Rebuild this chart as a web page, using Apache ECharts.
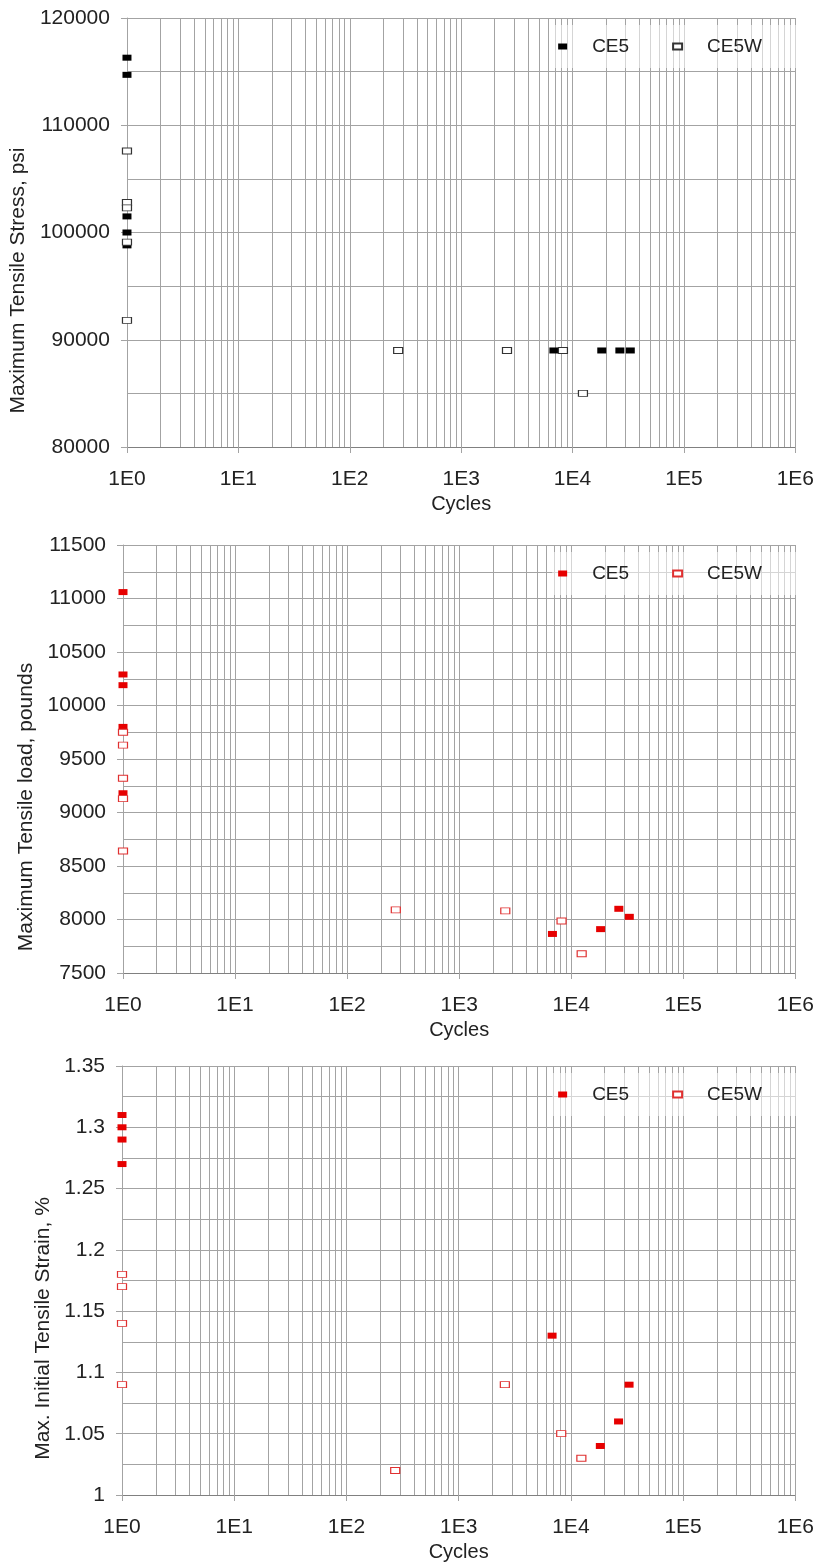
<!DOCTYPE html>
<html>
<head>
<meta charset="utf-8">
<script src="https://cdn.jsdelivr.net/npm/echarts@6/dist/echarts.min.js"></script>
<style>
html,body{margin:0;padding:0;background:#fff}
#main{width:817px;height:1568px}
</style>
</head>
<body>
<div id="main"></div>
<script>
// cycles to failure (same specimens in all three plots)
var ce5Cycles = [1, 1, 1, 1, 1, 6800, 18300, 26600, 33000];
var ce5wCycles = [1, 1, 1, 1, 1, 272, 2580, 8200, 12400];
var ce5StrainCycles = [1, 1, 1, 1, 6800, 18300, 26600, 33000];
var ce5wStrainCycles = [1, 1, 1, 1, 272, 2580, 8200, 12400];

// plot 1 : maximum tensile stress, psi
var ce5Stress = [116300, 114700, 101500, 100000, 98800, 89000, 89000, 89000, 89000];
var ce5wStress = [107600, 102800, 102300, 99100, 91800, 89000, 89000, 89000, 85000];

// plot 2 : maximum tensile load, pounds
var ce5Load = [11060, 10290, 10190, 9800, 9180, 7865, 7910, 8100, 8025];
var ce5wLoad = [9750, 9630, 9320, 9130, 8640, 8090, 8080, 7986, 7680];

// plot 3 : max. initial tensile strain, %
var ce5Strain = [1.31, 1.30, 1.29, 1.27, 1.13, 1.04, 1.06, 1.09];
var ce5wStrain = [1.18, 1.17, 1.14, 1.09, 1.02, 1.09, 1.05, 1.03];

var seriesNames = ['CE5', 'CE5W'];
var yTitles = ['Maximum Tensile Stress, psi', 'Maximum Tensile load, pounds', 'Max. Initial Tensile Strain, %'];
var yMin = [80000, 7500, 1];
var yMax = [120000, 11500, 1.35];
var yStep = [10000, 500, 0.05];

// log minor gridlines 2..9 of each decade
var minorX = [];
for (var k = 0; k < 6; k++) {
	for (var m = 2; m < 10; m++) {
		minorX.push(m * Math.pow(10, k));
	}
}

function pairs(xs, ys) {
	var out = [];
	for (var i = 0; i < xs.length; i++) out.push([xs[i], ys[i]]);
	return out;
}

var FONT = '"Liberation Sans", Arial, sans-serif';
var GRID_C = '#a3a3a3';
var tops = [18, 545, 1066];
var lefts = [124, 123, 122];
var heights = [429, 428, 429];
var nameGaps = [87, 77, 62];
var colors = ['#000000', '#e60000', '#e60000'];
var openBorder = ['#333333', '#e03030', '#e03030'];

var data = [
	[pairs(ce5Cycles, ce5Stress), pairs(ce5wCycles, ce5wStress)],
	[pairs(ce5Cycles, ce5Load), pairs(ce5wCycles, ce5wLoad)],
	[pairs(ce5StrainCycles, ce5Strain), pairs(ce5wStrainCycles, ce5wStrain)]
];

var grid = [], xAxis = [], yAxis = [], series = [], legend = [];

for (var i = 0; i < 3; i++) {
	grid.push({left: lefts[i], right: 20, top: tops[i], height: heights[i]});
	xAxis.push({
		type: 'log', logBase: 10, min: 1, max: 1000000, gridIndex: i, splitNumber: 6,
		name: 'Cycles', nameLocation: 'middle', nameGap: 47,
		nameTextStyle: {fontFamily: FONT, fontSize: 20, color: '#222'},
		axisLine: {show: true, lineStyle: {color: '#808080', width: 1}},
		axisTick: {show: true, length: 6, lineStyle: {color: GRID_C}},
		axisLabel: {
			fontFamily: FONT, fontSize: 21, color: '#222', margin: 22,
			formatter: function (v) { return '1E' + Math.round(Math.log10(v)); }
		},
		splitLine: {show: true, lineStyle: {color: GRID_C, width: 1}}
	});
	(function (idx) {
		yAxis.push({
			type: 'value', gridIndex: idx, min: yMin[idx], max: yMax[idx], interval: yStep[idx],
			name: yTitles[idx], nameLocation: 'middle', nameGap: nameGaps[idx], nameRotate: 90,
			nameTextStyle: {fontFamily: FONT, fontSize: 21, color: '#222', padding: [0, 96, 0, 0]},
			axisLine: {show: true, lineStyle: {color: GRID_C}},
			axisTick: {show: true, length: 6, lineStyle: {color: GRID_C}},
			axisLabel: {
				fontFamily: FONT, fontSize: 21, color: '#222', margin: 17,
				formatter: function (v) { return idx === 2 ? String(+v.toFixed(2)) : String(v); }
			},
			splitLine: {show: true, lineStyle: {color: GRID_C, width: 1}},
			minorTick: {show: false, splitNumber: 2},
			minorSplitLine: {show: true, lineStyle: {color: GRID_C, width: 1}}
		});
	})(i);

	// helper series carrying the minor log gridlines
	series.push({
		type: 'scatter', name: 'grid' + i, xAxisIndex: i, yAxisIndex: i,
		data: [], silent: true, z: 1,
		markLine: {
			silent: true, symbol: ['none', 'none'], animation: false, z: 1,
			label: {show: false},
			lineStyle: {color: GRID_C, width: 1, type: 'solid'},
			emphasis: {disabled: true},
			data: minorX.map(function (v) { return {xAxis: v}; })
		}
	});
	series.push({
		type: 'scatter', name: 'CE5|' + i, xAxisIndex: i, yAxisIndex: i,
		symbol: 'rect', symbolSize: [9, 6], z: 3,
		itemStyle: {color: colors[i], opacity: 1},
		data: data[i][0]
	});
	series.push({
		type: 'scatter', name: 'CE5W|' + i, xAxisIndex: i, yAxisIndex: i,
		symbol: 'rect', symbolSize: [9, 6], z: 3,
		itemStyle: {color: '#ffffff', borderColor: openBorder[i], borderWidth: 1, opacity: 1},
		data: data[i][1]
	});
	legend.push({
		top: tops[i] + 7, right: 20, orient: 'horizontal', z: 6,
		itemWidth: 9, itemHeight: 6, itemGap: 43,
		backgroundColor: 'rgba(255,255,255,0.55)',
		padding: [12, 35, 12, 6],
		selectedMode: false,
		textStyle: {fontFamily: FONT, fontSize: 19, color: '#222', padding: [0, 0, 0, 20]},
		formatter: function (name) { return name.split('|')[0]; },
		data: [seriesNames[0] + '|' + i, seriesNames[1] + '|' + i]
	});
}

var chart = echarts.init(document.getElementById('main'));
chart.setOption({
	animation: false,
	backgroundColor: '#ffffff',
	grid: grid,
	xAxis: xAxis,
	yAxis: yAxis,
	legend: legend,
	series: series
});
</script>
</body>
</html>
